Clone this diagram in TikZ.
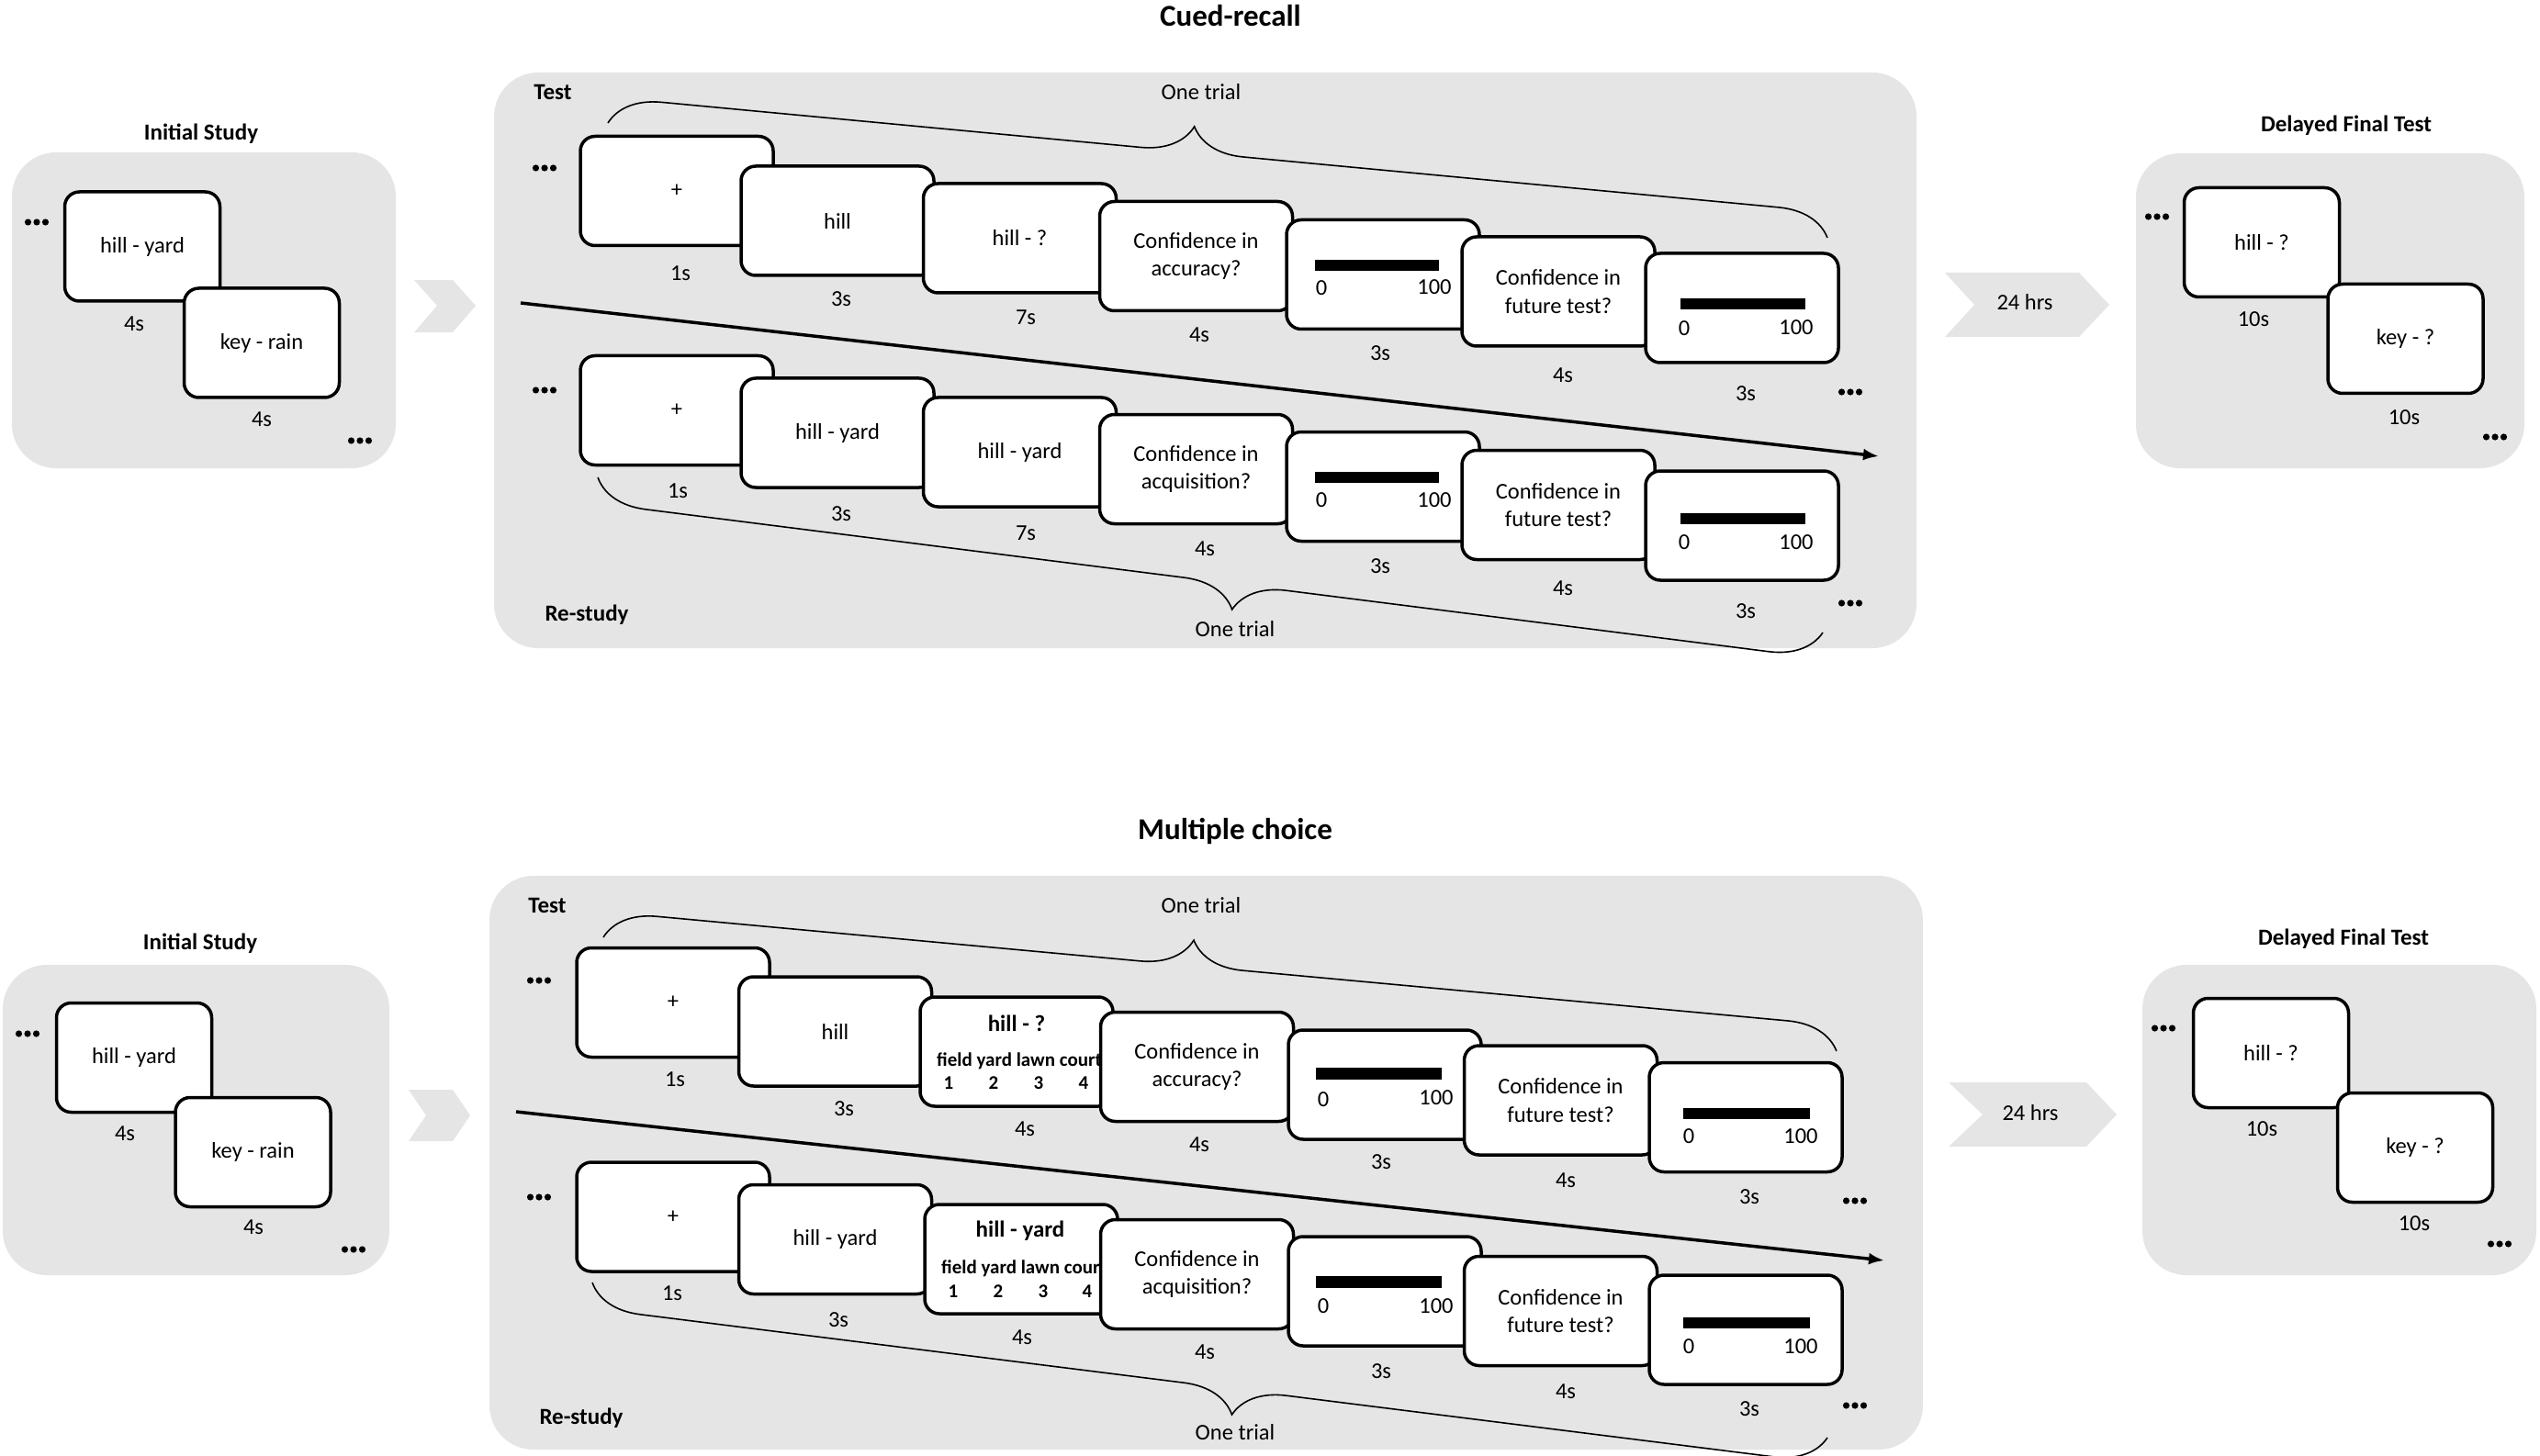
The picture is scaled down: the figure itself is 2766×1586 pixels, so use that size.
\documentclass[tikz,border=0pt]{standalone}
\usepackage{fontspec}
\setmainfont{Carlito}
\usetikzlibrary{decorations.pathreplacing,arrows.meta}
\definecolor{panelgray}{RGB}{229,229,229}
\newcommand{\txtf}{\fontsize{24.5}{30.5}\selectfont}
\newcommand{\bldf}{\fontsize{25}{30}\selectfont\bfseries}
\newcommand{\ttlf}{\fontsize{33}{38}\selectfont\bfseries}
\newcommand{\smbf}{\fontsize{21}{25}\selectfont\bfseries}
\tikzset{
  scr/.style={draw, line width=3.5pt, rounded corners=16pt, fill=white, minimum width=210pt, minimum height=119pt, inner sep=0pt, align=center, font=\txtf},
  sq/.style={scr, minimum width=169pt, minimum height=119pt},
  lab/.style={inner sep=0pt, font=\txtf},
  hdr/.style={inner sep=0pt, font=\bldf},
  ttl/.style={inner sep=0pt, font=\ttlf},
  mc/.style={inner sep=0pt, font=\smbf},
  panel/.style={fill=panelgray, rounded corners=48pt},
  chev/.style={fill=panelgray},
  brc/.style={decorate, decoration={brace, amplitude=56pt, aspect=#1}, line width=1.6pt},
  sepline/.style={line width=3.5pt, -{Latex[length=17pt,width=13pt]}},
  bar/.style={fill=black},
  tridots/.pic={\foreach \k in {-9.5,0,9.5} \fill (\k,0) circle (3.6pt);}
}
\begin{document}
\begin{tikzpicture}[x=1pt,y=-1pt]
\useasboundingbox (0,0) rectangle (2766,1586);

% ================= CUED-RECALL =================
\node[ttl] (t1) at (1340,17) {Cued-recall};
% panels
\fill[panel] (13,166) rectangle (431,510);
\fill[panel] (538,79) rectangle (2087,706);
\fill[panel] (2326,167) rectangle (2749,510);
% chevrons
\fill[chev] (451,305) -- (493,305) -- (518,333) -- (493,362) -- (451,362) -- (476,333) -- cycle;
\fill[chev] (2118,297) -- (2264,297) -- (2297,332) -- (2264,367) -- (2118,367) -- (2150,332) -- cycle;
\node[lab] (h1) at (2205,329) {24 hrs};

% initial study
\node[hdr] (is1) at (219,146) {Initial Study};
\node[sq] (is1a) at (155,268.5) {hill - yard};
\node[lab] (is1al) at (146,353) {4s};
\node[sq] (is1b) at (285,373.5) {key - rain};
\node[lab] (is1bl) at (285,457) {4s};
\pic (is1d1) at (40,242) {tridots};
\pic (is1d2) at (392,480) {tridots};

% delayed final test
\node[hdr] (df1) at (2555,137) {Delayed Final Test};
\node[sq] (df1a) at (2463,264) {hill - ?};
\node[lab] (df1al) at (2454,348) {10s};
\node[sq] (df1b) at (2619.5,369) {key - ?};
\node[lab] (df1bl) at (2618,455) {10s};
\pic (df1d1) at (2349,236) {tridots};
\pic (df1d2) at (2717,476) {tridots};

% test row
\node[hdr] (te1) at (602,100) {Test};
\pic (tdl) at (593,183) {tridots};
\node[scr] (tA) at (737,208) {+};
\node[scr] (tB) at (912,240.5) {hill};
\node[scr] (tC) at (1110.5,259.5) {hill - ?};
\node[scr] (tD) at (1302.5,279) {Confidence in\\accuracy?};
\node[scr] (tE) at (1506,299) {};
\fill[bar] (1432,283) rectangle (1567,295);
\node[lab] (tE0) at (1439,314) {0};
\node[lab] (tE1) at (1562,313) {100};
\node[scr] (tF) at (1697,317.5) {Confidence in\\future test?};
\node[scr] (tG) at (1897,335.5) {};
\fill[bar] (1830,325) rectangle (1966,337);
\node[lab] (tG0) at (1834,358) {0};
\node[lab] (tG1) at (1956,357) {100};
\node[lab] (tAl) at (741,298) {1s};
\node[lab] (tBl) at (916,326) {3s};
\node[lab] (tCl) at (1117,346) {7s};
\node[lab] (tDl) at (1306,365) {4s};
\node[lab] (tEl) at (1503,385) {3s};
\node[lab] (tFl) at (1702,409) {4s};
\node[lab] (tGl) at (1901,429) {3s};
\pic (tdr) at (2015,427) {tridots};

% re-study row
\pic (rdl) at (593,425) {tridots};
\node[scr] (rA) at (737,447) {+};
\node[scr] (rB) at (912,471.5) {hill - yard};
\node[scr] (rC) at (1110.5,492.5) {hill - yard};
\node[scr] (rD) at (1302.5,511) {Confidence in\\acquisition?};
\node[scr] (rE) at (1506,530) {};
\fill[bar] (1432,514) rectangle (1567,526);
\node[lab] (rE0) at (1439,545) {0};
\node[lab] (rE1) at (1562,545) {100};
\node[scr] (rF) at (1697,550) {Confidence in\\future test?};
\node[scr] (rG) at (1897,572.5) {};
\fill[bar] (1830,559) rectangle (1966,571);
\node[lab] (rG0) at (1834,591) {0};
\node[lab] (rG1) at (1956,591) {100};
\node[lab] (rAl) at (738,535) {1s};
\node[lab] (rBl) at (916,560) {3s};
\node[lab] (rCl) at (1117,581) {7s};
\node[lab] (rDl) at (1312,598) {4s};
\node[lab] (rEl) at (1503,617) {3s};
\node[lab] (rFl) at (1702,641) {4s};
\node[lab] (rGl) at (1901,666) {3s};
\pic (rdr) at (2015,657) {tridots};
\node[hdr] (rs1) at (639,670) {Re-study};

% separator and braces
\coordinate (s1a) at (567,330);
\coordinate (s1b) at (2046,497);
\draw[sepline] (s1a) -- (s1b);
\coordinate (b1a) at (662,134);
\coordinate (b1b) at (1990,259);
\draw[brc=0.477] (b1a) -- (b1b);
\node[lab] (ot1) at (1308,100) {One trial};
\coordinate (b2a) at (1985,689);
\coordinate (b2b) at (651,520);
\draw[brc=0.477] (b2a) -- (b2b);
\node[lab] (ot2) at (1345,685) {One trial};

% ================= MULTIPLE CHOICE =================
\node[ttl] (t2) at (1345,905) {Multiple choice};
\fill[panel] (3,1051) rectangle (424,1389);
\fill[panel] (533,954) rectangle (2094,1579);
\fill[panel] (2333,1051) rectangle (2762,1389);
\fill[chev] (445,1187) -- (493,1187) -- (512,1215) -- (493,1243) -- (445,1243) -- (464,1215) -- cycle;
\fill[chev] (2122,1179) -- (2272,1179) -- (2305,1214) -- (2272,1249) -- (2122,1249) -- (2159,1214) -- cycle;
\node[lab] (h2) at (2211,1212) {24 hrs};

\node[hdr] (is2) at (218,1028) {Initial Study};
\node[sq] (is2a) at (146,1152) {hill - yard};
\node[lab] (is2al) at (136,1235) {4s};
\node[sq] (is2b) at (275.5,1255) {key - rain};
\node[lab] (is2bl) at (276,1337) {4s};
\pic (is2d1) at (30,1126) {tridots};
\pic (is2d2) at (385,1361) {tridots};

\node[hdr] (df2) at (2552,1023) {Delayed Final Test};
\node[sq] (df2a) at (2473,1147) {hill - ?};
\node[lab] (df2al) at (2463,1230) {10s};
\node[sq] (df2b) at (2630,1250) {key - ?};
\node[lab] (df2bl) at (2629,1333) {10s};
\pic (df2d1) at (2356,1120) {tridots};
\pic (df2d2) at (2722,1355) {tridots};

% test row
\node[hdr] (te2) at (596,986) {Test};
\pic (mdl) at (587,1068) {tridots};
\node[scr] (mA) at (733,1092) {+};
\node[scr] (mB) at (909.5,1123.5) {hill};
\node[scr] (mC) at (1107,1145.5) {};
\node[hdr] (mCt) at (1107,1115) {hill - ?};
\node[mc,anchor=west] (mCw) at (1020,1156) {field yard lawn court};
\node[mc] (mC1) at (1033,1180) {1};
\node[mc] (mC2) at (1082,1180) {2};
\node[mc] (mC3) at (1131,1180) {3};
\node[mc] (mC4) at (1180,1180) {4};
\node[scr] (mD) at (1303.5,1162) {Confidence in\\accuracy?};
\node[scr] (mE) at (1508,1181.5) {};
\fill[bar] (1433,1163) rectangle (1570,1176);
\node[lab] (mE0) at (1441,1198) {0};
\node[lab] (mE1) at (1564,1196) {100};
\node[scr] (mF) at (1699.5,1198.5) {Confidence in\\future test?};
\node[scr] (mG) at (1901,1217) {};
\fill[bar] (1833,1207) rectangle (1971,1219);
\node[lab] (mG0) at (1839,1238) {0};
\node[lab] (mG1) at (1961,1238) {100};
\node[lab] (mAl) at (735,1176) {1s};
\node[lab] (mBl) at (919,1208) {3s};
\node[lab] (mCl) at (1116,1230) {4s};
\node[lab] (mDl) at (1306,1247) {4s};
\node[lab] (mEl) at (1504,1266) {3s};
\node[lab] (mFl) at (1705,1286) {4s};
\node[lab] (mGl) at (1905,1304) {3s};
\pic (mdr) at (2020,1308) {tridots};

% re-study row
\pic (ndl) at (587,1304) {tridots};
\node[scr] (nA) at (733,1325.5) {+};
\node[scr] (nB) at (909.5,1350) {hill - yard};
\node[scr] (nC) at (1112,1371.5) {};
\node[hdr] (nCt) at (1111,1341) {hill - yard};
\node[mc,anchor=west] (nCw) at (1025,1382) {field yard lawn court};
\node[mc] (nC1) at (1038,1407) {1};
\node[mc] (nC2) at (1087,1407) {2};
\node[mc] (nC3) at (1136,1407) {3};
\node[mc] (nC4) at (1184,1407) {4};
\node[scr] (nD) at (1303.5,1388) {Confidence in\\acquisition?};
\node[scr] (nE) at (1508,1406.5) {};
\fill[bar] (1433,1390) rectangle (1570,1403);
\node[lab] (nE0) at (1441,1423) {0};
\node[lab] (nE1) at (1564,1423) {100};
\node[scr] (nF) at (1699.5,1428) {Confidence in\\future test?};
\node[scr] (nG) at (1901,1448.5) {};
\fill[bar] (1833,1435) rectangle (1971,1447);
\node[lab] (nG0) at (1839,1467) {0};
\node[lab] (nG1) at (1961,1467) {100};
\node[lab] (nAl) at (732,1409) {1s};
\node[lab] (nBl) at (913,1438) {3s};
\node[lab] (nCl) at (1113,1457) {4s};
\node[lab] (nDl) at (1312,1473) {4s};
\node[lab] (nEl) at (1504,1494) {3s};
\node[lab] (nFl) at (1705,1516) {4s};
\node[lab] (nGl) at (1905,1535) {3s};
\pic (ndr) at (2020,1531) {tridots};
\node[hdr] (rs2) at (633,1545) {Re-study};

\coordinate (s2a) at (562,1211);
\coordinate (s2b) at (2052,1373);
\draw[sepline] (s2a) -- (s2b);
\coordinate (b3a) at (657,1021);
\coordinate (b3b) at (2000,1145);
\draw[brc=0.475] (b3a) -- (b3b);
\node[lab] (ot3) at (1308,986) {One trial};
\coordinate (b4a) at (1990,1566);
\coordinate (b4b) at (645,1397);
\draw[brc=0.477] (b4a) -- (b4b);
\node[lab] (ot4) at (1345,1560) {One trial};
\end{tikzpicture}
\end{document}
